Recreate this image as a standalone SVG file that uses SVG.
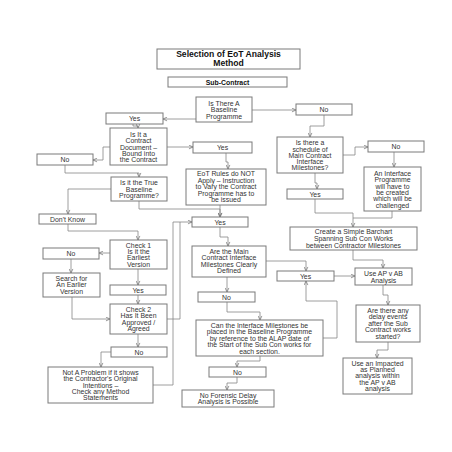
<svg xmlns="http://www.w3.org/2000/svg" width="452" height="452" viewBox="0 0 452 452">
<defs>
<style>
.b{fill:#fff;stroke:#7a7a7a;stroke-width:1}
.t{font-family:"Liberation Sans",Arial,sans-serif;font-size:6.9px;fill:#333;text-anchor:middle}
.h{font-weight:bold;fill:#111}
.c{fill:none;stroke:#858585;stroke-width:0.8;marker-end:url(#a)}
.n{fill:none;stroke:#858585;stroke-width:0.8}
</style>
<marker id="a" viewBox="0 0 8 8" refX="7.5" refY="4" markerWidth="5" markerHeight="5" markerUnits="userSpaceOnUse" orient="auto">
<path d="M1,1 L7.5,4 L1,7" fill="none" stroke="#777" stroke-width="1.2"/>
</marker>
</defs>
<rect width="452" height="452" fill="#fff"/>

<g id="connectors">
<path class="c" d="M196,119 H163"/>
<path class="c" d="M252,110 H296"/>
<path class="c" d="M133,124 V126 H138 V128"/>
<path class="c" d="M167,147 H193"/>
<path class="c" d="M110,147 H103 V160 H93"/>
<path class="c" d="M324,115 V126 H310 V137"/>
<path class="c" d="M343,155 H355 V147 H368"/>
<path class="c" d="M394,152 V167"/>
<path class="c" d="M226,153 V162 H228 V169"/>
<path class="c" d="M315,173 V183 H317 V189"/>
<path class="c" d="M315,199 V213 H353 V227"/>
<path class="n" d="M392,211 V218 H353"/>
<path class="c" d="M353,250 V260 H383 V268"/>
<path class="c" d="M334,276 H355"/>
<path class="c" d="M139,201 V209 H220 V217"/>
<path class="c" d="M220,205 V217"/>
<path class="c" d="M220,227 V237 H228 V246"/>
<path class="c" d="M266,261 H306 V271"/>
<path class="c" d="M227,277 V292"/>
<path class="c" d="M227,302 V312 H260 V320"/>
<path class="c" d="M323,338 H337 V301 H306 V281"/>
<path class="c" d="M260,356 V361 H237 V367"/>
<path class="c" d="M237,377 V383 H227 V390"/>
<path class="c" d="M383,285 V295 H388 V305"/>
<path class="c" d="M388,342 V350 H377 V358"/>
<path class="c" d="M65,165 V173 H139 V177"/>
<path class="c" d="M111,189 H68 V214"/>
<path class="c" d="M68,224 V231 H138 V240"/>
<path class="c" d="M110,253 H99"/>
<path class="c" d="M71,259 V273"/>
<path class="c" d="M138,269 V285"/>
<path class="c" d="M138,295 V304"/>
<path class="c" d="M72,297 V319 H110"/>
<path class="c" d="M167,319 H180 V222 H192"/>
<path class="n" d="M153,385 H173 V222 H180"/>
<path class="c" d="M138,334 V347"/>
<path class="c" d="M111,352 H101 V367"/>
</g>

<g id="title"><rect class="b" x="157" y="49" width="143" height="20"/>
<text class="t h" style="font-size:8.6px" x="228.5" y="57">Selection of EoT Analysis</text>
<text class="t h" style="font-size:8.6px" x="228.5" y="66">Method</text></g>

<g id="subcontract"><rect class="b" x="168" y="77" width="119" height="10"/>
<text class="t h" x="227.5" y="84.5">Sub-Contract</text></g>

<g id="baseline"><rect class="b" x="196" y="97" width="56" height="25"/>
<text class="t" x="224" y="105.5">Is There A</text>
<text class="t" x="224" y="112">Baseline</text>
<text class="t" x="224" y="118.5">Programme</text></g>

<g id="yesL"><rect class="b" x="106" y="113" width="57" height="11"/>
<text class="t" x="134.5" y="121">Yes</text></g>

<g id="noR"><rect class="b" x="296" y="104" width="56" height="11"/>
<text class="t" x="324" y="112">No</text></g>

<g id="contract"><rect class="b" x="110" y="128" width="57" height="37"/>
<text class="t" x="138.5" y="137">Is It a</text>
<text class="t" x="138.5" y="143.3">Contract</text>
<text class="t" x="138.5" y="149.5">Document –</text>
<text class="t" x="138.5" y="155.8">Bound into</text>
<text class="t" x="138.5" y="162">the Contract</text></g>

<g id="yesM"><rect class="b" x="193" y="142" width="59" height="11"/>
<text class="t" x="222.5" y="150">Yes</text></g>

<g id="noL"><rect class="b" x="37" y="154" width="56" height="11"/>
<text class="t" x="65" y="162">No</text></g>

<g id="eot"><rect class="b" x="186" y="169" width="80" height="36"/>
<text class="t" x="226" y="176">EoT Rules do NOT</text>
<text class="t" x="226" y="182.5">Apply – Instruction</text>
<text class="t" x="226" y="189">to Vary the Contract</text>
<text class="t" x="226" y="195.5">Programme has to</text>
<text class="t" x="226" y="202">be issued</text></g>

<g id="schedule"><rect class="b" x="277" y="137" width="66" height="36"/>
<text class="t" x="310" y="145.2">Is there a</text>
<text class="t" x="310" y="151.5">schedule of</text>
<text class="t" x="310" y="157.8">Main Contract</text>
<text class="t" x="310" y="164.1">Interface</text>
<text class="t" x="310" y="170.4">Milestones?</text></g>

<g id="noRR"><rect class="b" x="368" y="141" width="56" height="11"/>
<text class="t" x="396" y="149">No</text></g>

<g id="interface"><rect class="b" x="364" y="167" width="57" height="44"/>
<text class="t" x="392.5" y="175.8">An Interface</text>
<text class="t" x="392.5" y="182.1">Programme</text>
<text class="t" x="392.5" y="188.5">will have to</text>
<text class="t" x="392.5" y="194.8">be created</text>
<text class="t" x="392.5" y="201.2">which will be</text>
<text class="t" x="392.5" y="207.5">challenged</text></g>

<g id="yesS"><rect class="b" x="287" y="189" width="56" height="10"/>
<text class="t" x="315" y="196.5">Yes</text></g>

<g id="create"><rect class="b" x="290" y="227" width="127" height="23"/>
<text class="t" x="353.5" y="234.2">Create a Simple Barchart</text>
<text class="t" x="353.5" y="240.8">Spanning Sub Con Works</text>
<text class="t" x="353.5" y="247.5">between Contractor Milestones</text></g>

<g id="useAP"><rect class="b" x="355" y="268" width="57" height="17"/>
<text class="t" x="383.5" y="275.8">Use AP v AB</text>
<text class="t" x="383.5" y="282.5">Analysis</text></g>

<g id="yesRt"><rect class="b" x="277" y="271" width="57" height="10"/>
<text class="t" x="305.5" y="278.5">Yes</text></g>

<g id="areMain"><rect class="b" x="192" y="246" width="74" height="31"/>
<text class="t" x="229" y="253.5">Are the Main</text>
<text class="t" x="229" y="260">Contract Interface</text>
<text class="t" x="229" y="266.5">Milestones Clearly</text>
<text class="t" x="229" y="273">Defined</text></g>

<g id="yesC"><rect class="b" x="192" y="217" width="56" height="10"/>
<text class="t" x="220" y="224.5">Yes</text></g>

<g id="noC"><rect class="b" x="198" y="292" width="57" height="10"/>
<text class="t" x="226.5" y="299.5">No</text></g>

<g id="can"><rect class="b" x="196" y="320" width="127" height="36"/>
<text class="t" x="259.5" y="327.5">Can the Interface Milestones be</text>
<text class="t" x="259.5" y="334.1">placed in the Baseline Programme</text>
<text class="t" x="259.5" y="340.8">by reference to the ALAP date of</text>
<text class="t" x="259.5" y="347.4">the Start of the Sub Con works for</text>
<text class="t" x="259.5" y="354">each section.</text></g>

<g id="noL2"><rect class="b" x="209" y="367" width="57" height="10"/>
<text class="t" x="237.5" y="374.5">No</text></g>

<g id="noForensic"><rect class="b" x="182" y="390" width="92" height="17"/>
<text class="t" x="228" y="397.5">No Forensic Delay</text>
<text class="t" x="228" y="404">Analysis is Possible</text></g>

<g id="areThere"><rect class="b" x="356" y="305" width="64" height="37"/>
<text class="t" x="388" y="312.5">Are there any</text>
<text class="t" x="388" y="319">delay events</text>
<text class="t" x="388" y="325.5">after the Sub</text>
<text class="t" x="388" y="332">Contract works</text>
<text class="t" x="388" y="338.5">started?</text></g>

<g id="useImp"><rect class="b" x="343" y="358" width="69" height="36"/>
<text class="t" x="377.5" y="365.8">Use an Impacted</text>
<text class="t" x="377.5" y="372.1">as Planned</text>
<text class="t" x="377.5" y="378.4">analysis within</text>
<text class="t" x="377.5" y="384.7">the AP v AB</text>
<text class="t" x="377.5" y="391">analysis</text></g>

<g id="isTrue"><rect class="b" x="111" y="177" width="56" height="24"/>
<text class="t" x="139" y="185.2">Is it the True</text>
<text class="t" x="139" y="191.5">Baseline</text>
<text class="t" x="139" y="197.8">Programme?</text></g>

<g id="dontKnow"><rect class="b" x="39" y="214" width="57" height="10"/>
<text class="t" x="67.5" y="221.5">Don't Know</text></g>

<g id="check1"><rect class="b" x="110" y="240" width="57" height="29"/>
<text class="t" x="138.5" y="247.5">Check 1</text>
<text class="t" x="138.5" y="253.9">Is it the</text>
<text class="t" x="138.5" y="260.3">Earliest</text>
<text class="t" x="138.5" y="266.7">Version</text></g>

<g id="noCk1"><rect class="b" x="43" y="248" width="56" height="11"/>
<text class="t" x="71" y="256">No</text></g>

<g id="search"><rect class="b" x="43" y="273" width="57" height="24"/>
<text class="t" x="71.5" y="280.8">Search for</text>
<text class="t" x="71.5" y="287.3">An Earlier</text>
<text class="t" x="71.5" y="293.8">Version</text></g>

<g id="yesCk1"><rect class="b" x="110" y="285" width="56" height="10"/>
<text class="t" x="138" y="292.5">Yes</text></g>

<g id="check2"><rect class="b" x="110" y="304" width="57" height="30"/>
<text class="t" x="138.5" y="311.8">Check 2</text>
<text class="t" x="138.5" y="318.3">Has It Been</text>
<text class="t" x="138.5" y="324.8">Approved /</text>
<text class="t" x="138.5" y="331.3">Agreed</text></g>

<g id="noCk2"><rect class="b" x="111" y="347" width="56" height="10"/>
<text class="t" x="139" y="354.5">No</text></g>

<g id="notProblem"><rect class="b" x="48" y="367" width="105" height="36"/>
<text class="t" x="100.5" y="374.8">Not A Problem if it shows</text>
<text class="t" x="100.5" y="381.2">the Contractor's Original</text>
<text class="t" x="100.5" y="387.6">Intentions –</text>
<text class="t" x="100.5" y="394">Check any Method</text>
<text class="t" x="100.5" y="400.4">Statements</text></g>
</svg>
